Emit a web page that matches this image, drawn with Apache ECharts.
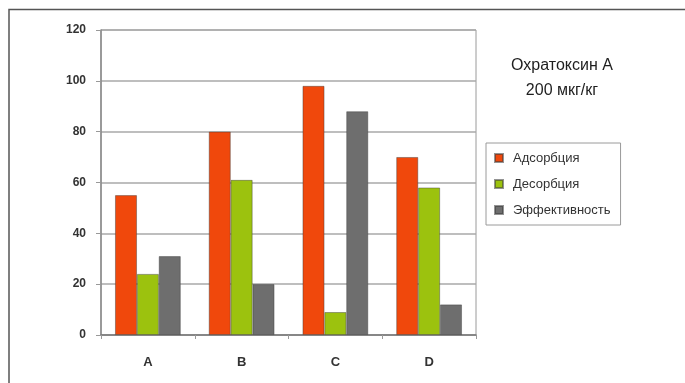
<!DOCTYPE html>
<html>
<head>
<meta charset="utf-8">
<script src="https://cdn.jsdelivr.net/npm/echarts@6/dist/echarts.min.js"></script>
<style>
  html, body { margin: 0; padding: 0; background: #fff; }
  #chart { width: 685px; height: 383px; }
</style>
</head>
<body>
<div id="chart"></div>
<script>
// Categories and measured percentages per sample
const categories = ['A', 'B', 'C', 'D'];
const seriesNames = ['Адсорбция', 'Десорбция', 'Эффективность'];
const adsorption = [55, 80, 98, 70];
const desorption = [24, 61, 9, 58];
const efficiency = [31, 20, 88, 12];
const yTicks = [0, 20, 40, 60, 80, 100, 120];
const titleLines = ['Охратоксин А', '200 мкг/кг'];

const colors = ['#f0480c', '#9cc20e', '#6e6e6e'];
const font = 'Liberation Sans, Arial, sans-serif';

const chart = echarts.init(document.getElementById('chart'));
const mkSeries = (name, data, color) => ({
  name, type: 'bar', data,
  barGap: '0%', barCategoryGap: '30%',
  itemStyle: { color, borderColor: 'rgba(60,60,60,0.55)', borderWidth: 0.8 }
});

chart.setOption({
  animation: false,
  color: colors,
  title: {
    text: titleLines.join('\n'),
    left: 557, top: 48, textAlign: 'center',
    textStyle: { fontFamily: font, fontSize: 16, fontWeight: 'normal', color: '#1e1e1e', lineHeight: 25 }
  },
  legend: {
    data: seriesNames,
    orient: 'vertical',
    left: 486, top: 143,
    itemWidth: 8, itemHeight: 8, itemGap: 12,
    icon: 'rect',
    padding: [8, 10, 8, 8],
    borderColor: '#9a9a9a', borderWidth: 1,
    textStyle: { fontFamily: font, fontSize: 13, color: '#333', lineHeight: 14, padding: [0, 0, 0, 5] }
  },
  grid: { left: 101, right: 209, top: 30, bottom: 48, show: true, borderColor: '#9a9a9a', borderWidth: 1 },
  xAxis: {
    type: 'category', data: categories,
    axisLine: { lineStyle: { color: '#7a7a7a', width: 1.5 } },
    axisTick: { show: true, length: 4, lineStyle: { color: '#999' } },
    axisLabel: { fontFamily: font, fontSize: 13, fontWeight: 'bold', color: '#333', margin: 21 }
  },
  yAxis: {
    type: 'value', min: yTicks[0], max: yTicks[yTicks.length - 1], interval: 20,
    axisLine: { show: true, lineStyle: { color: '#8a8a8a', width: 1.5 } },
    axisTick: { show: true, length: 5, lineStyle: { color: '#999' } },
    axisLabel: { fontFamily: font, fontSize: 12, fontWeight: 'bold', color: '#333', margin: 15 },
    splitLine: { lineStyle: { color: '#a8a8a8', width: 1.5 } }
  },
  graphic: [
    { type: 'polyline', shape: { points: [[9, 383], [9, 9.5], [685, 9.5]] },
      style: { stroke: '#555', lineWidth: 1.5, fill: null } }
  ],
  series: [
    mkSeries(seriesNames[0], adsorption, colors[0]),
    mkSeries(seriesNames[1], desorption, colors[1]),
    mkSeries(seriesNames[2], efficiency, colors[2])
  ]
});
</script>
</body>
</html>
